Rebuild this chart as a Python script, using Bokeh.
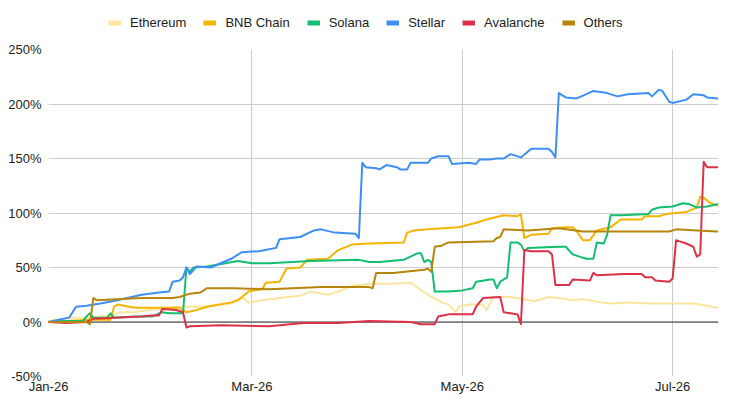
import datetime as dt
from bokeh.plotting import figure
from bokeh.layouts import column
from bokeh.models import (Range1d, FixedTicker, DatetimeTickFormatter, Legend, LegendItem,
                          Span, ColumnDataSource, PrintfTickFormatter)
from bokeh.embed import file_html
from bokeh.resources import INLINE

# ---- data (day offsets from 2026-01-01, values in %) ----
series_names = ["Ethereum", "BNB Chain", "Solana", "Stellar", "Avalanche", "Others"]

eth_day = [0,6,12,18,21,25,29,38,44,53,56,58,62,67,73,76,81,85,88,93,100,105,110,114,116,118,119,122,126,127,129,134,141,145,148,152,155,160,163,168,175,187,191,194]
eth_val = [1,4,4,6,9,9,11,14,14,17,23,18,20,22,24,28,25,29,33,35,35,36,25,18,16,9,14,16,16,11,23,23,19,23,22,20,21,18,17,18,17,17,15,13]

bnb_day = [0,5,12,18,19,20,25,38,40,43,46,53,55,58,62,63,67,69,73,75,81,84,88,93,103,104,106,110,119,124,127,132,136,137,138,140,145,146,150,152,153,155,157,159,163,166,172,173,177,179,185,188,189,190,192,194]
bnb_val = [0,1,2,2,14,16,13,13,9,11,14,18,20,28,30,36,37,49,50,57,58,66,71,72,73,82,84,85,87,91,94,98,97,99,77,80,81,86,87,87,84,75,75,84,87,94,94,97,97,99,101,105,115,114,109,107]

sol_day = [0,5,10,11,12,13,17,18,19,25,30,33,35,39,40,41,42,46,55,59,64,76,90,93,96,103,107,108,109,110,111,112,116,120,123,124,128,129,130,131,133,134,136,137,138,139,148,150,152,154,156,158,159,161,162,163,166,174,175,177,181,184,186,188,191,194]
sol_val = [0,1,1,5,8,4,4,8,4,5,5,9,8,8,50,46,50,51,56,54,54,56,57,55,55,57,63,63,55,57,55,28,28,29,31,37,39,39,31,37,41,73,73,71,65,68,69,69,62,60,58,58,73,72,80,98,98,99,103,105,106,109,108,105,106,108]

ste_day = [0,3,6,8,11,15,20,27,32,35,36,38,39,40,41,43,47,53,56,61,66,67,73,77,79,83,89,90,91,92,95,96,98,101,102,104,105,110,111,113,116,117,122,124,125,128,130,132,134,137,140,145,146,147,148,150,153,156,158,160,162,165,168,174,175,177,178,180,181,185,187,190,191,194]
ste_val = [0,2,4,14,15,17,20,25,27,28,37,38,41,50,44,51,50,58,64,65,68,76,78,84,85,82,81,77,146,142,141,140,144,142,140,140,146,146,150,152,152,145,146,145,149,149,150,150,154,151,159,159,156,151,210,206,205,209,212,211,210,207,209,210,207,213,212,202,201,204,209,208,206,205]

ava_day = [0,5,11,13,19,27,30,32,33,37,39,40,41,50,64,74,84,93,105,108,112,113,116,123,124,126,131,132,136,137,138,140,145,146,147,151,152,157,158,159,167,172,173,175,176,180,181,182,183,185,187,188,189,190,191,194]
ava_val = [0,-1,0,3,4,5,6,6,12,11,9,-5,-4,-3,-4,-1,-1,1,0,-2,-2,5,7,7,14,22,23,9,7,-2,66,65,65,62,34,34,39,38,45,43,44,44,41,41,38,37,40,75,74,72,69,60,62,147,142,142]

oth_day = [0,11,12,13,14,27,36,38,41,44,46,54,64,79,88,93,94,95,100,109,110,111,112,114,116,129,130,131,132,139,148,155,172,180,182,188,194]
oth_val = [0,0,-2,22,20,22,22,23,26,27,31,31,30,32,32,32,31,45,45,48,49,46,69,70,73,74,77,78,85,84,86,83,83,83,85,84,83]

y_ticks = [-50, 0, 50, 100, 150, 200, 250]
x_tick_dates = ["2026-01-01", "2026-03-01", "2026-05-01", "2026-07-01"]

colors = ["#FCE59F", "#F4B400", "#12BE6F", "#3D8FF6", "#DD3148", "#B8860B"]

# ---- helpers ----
BASE = dt.datetime(2026, 1, 1)
EPOCH = dt.datetime(1970, 1, 1)

def to_dates(days):
    return [BASE + dt.timedelta(days=d) for d in days]

def to_ms(s):
    d = dt.datetime.strptime(s, "%Y-%m-%d")
    return (d - EPOCH).total_seconds() * 1000.0

FONT = "Liberation Sans"

# ---- legend strip (its frame is aligned with the chart frame by the column) ----
lg = figure(width=727, height=30, output_backend="svg", toolbar_location=None,
            x_axis_location=None, y_axis_location=None,
            min_border_left=0, min_border_right=0, min_border_top=0, min_border_bottom=0)
lg.outline_line_color = None
lg.xgrid.visible = False
lg.ygrid.visible = False
lg.x_range = Range1d(0, 1)
lg.y_range = Range1d(0, 1)

# ---- main chart ----
p = figure(width=727, height=366, x_axis_type="datetime", output_backend="svg",
           toolbar_location=None, min_border_left=48, min_border_right=9,
           min_border_top=19, min_border_bottom=19)
p.x_range = Range1d(BASE, BASE + dt.timedelta(days=194.3))
p.y_range = Range1d(-50, 250)
p.outline_line_color = None
p.background_fill_color = "white"
p.border_fill_color = "white"

for ax in (p.xaxis[0], p.yaxis[0]):
    ax.axis_line_color = None
    ax.major_tick_line_color = None
    ax.minor_tick_line_color = None
    ax.major_tick_out = 0
    ax.major_tick_in = 0
    ax.major_label_text_font = FONT
    ax.major_label_text_font_size = "13px"
    ax.major_label_text_color = "#222222"

p.yaxis[0].ticker = FixedTicker(ticks=y_ticks)
p.yaxis[0].formatter = PrintfTickFormatter(format="%d%%")
p.yaxis[0].major_label_standoff = 7
p.xaxis[0].ticker = FixedTicker(ticks=[to_ms(s) for s in x_tick_dates])
p.xaxis[0].formatter = DatetimeTickFormatter(days="%b-%y", months="%b-%y", years="%b-%y")
p.xaxis[0].major_label_standoff = 2

p.xgrid.ticker = p.xaxis[0].ticker
p.ygrid.ticker = p.yaxis[0].ticker
p.xgrid.grid_line_color = "#cccccc"
p.ygrid.grid_line_color = "#cccccc"
p.xgrid.grid_line_width = 1
p.ygrid.grid_line_width = 1

p.add_layout(Span(location=0, dimension="width", line_color="#333333", line_width=1, level="underlay"))

all_days = [eth_day, bnb_day, sol_day, ste_day, ava_day, oth_day]
all_vals = [eth_val, bnb_val, sol_val, ste_val, ava_val, oth_val]

items = []
for name, days, vals, c in zip(series_names, all_days, all_vals, colors):
    src = ColumnDataSource(dict(x=to_dates(days), y=vals))
    p.line("x", "y", source=src, line_color=c, line_width=2, line_join="round", line_cap="round")
    # legend proxy: kept outside the strip's visible range, only its swatch is shown
    proxy = lg.line(x=[-5, -4], y=[-5, -5], line_color=c, line_width=5, line_cap="butt")
    items.append(LegendItem(label=name, renderers=[proxy]))

legend = Legend(items=items, orientation="horizontal", location=(60, 0),
                glyph_width=13, glyph_height=13, label_standoff=9, spacing=17,
                padding=0, margin=0, border_line_color=None, background_fill_alpha=0,
                label_text_font=FONT, label_text_font_size="13px",
                label_text_color="#222222")
lg.add_layout(legend, "center")

layout = column(lg, p, spacing=0)
open("out.html", "w").write(file_html(layout, INLINE))
